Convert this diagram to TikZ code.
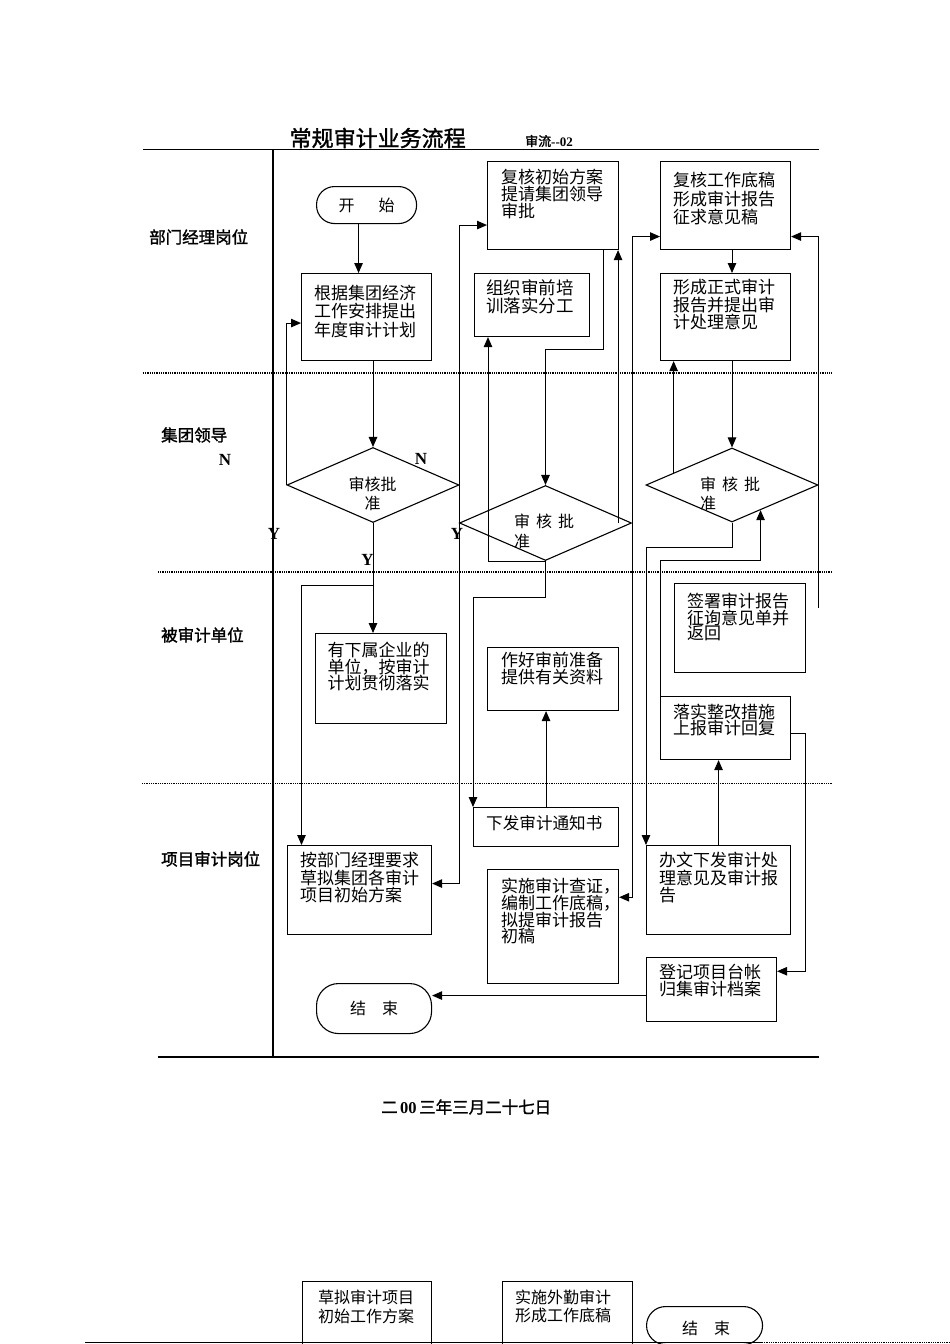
\documentclass[tikz,border=0pt]{standalone}
\usepackage{fontspec}
\setmainfont{Liberation Serif}
\newfontfamily\cjk{Noto Sans CJK SC}
\newfontfamily\cjkb{Noto Sans CJK SC}[FakeBold=1.5]
\usetikzlibrary{shapes.geometric,arrows.meta,calc}
\newcommand\bxfont[2]{\cjk\fontsize{#1}{#2}\selectfont}
\begin{document}
\begin{tikzpicture}[x=1pt,y=-1pt,
  every node/.style={inner sep=0pt},
  bx/.style={draw, rectangle, anchor=north west, line width=1.1pt},
  term/.style={draw, rectangle, anchor=north west, line width=1.1pt, font=\bxfont{16}{18}},
  dia/.style={draw, diamond, line width=1.1pt, minimum width=172pt, minimum height=75pt},
  txt/.style={anchor=north west, align=left},
  lane/.style={anchor=west, font=\cjkb\fontsize{16.5}{18}\selectfont},
  yn/.style={font=\bfseries\fontsize{17}{18}\selectfont},
  con/.style={line width=1pt},
  arr/.style={con, -{Triangle[length=10pt,width=8.5pt]}},
  arr2/.style={con, {Triangle[length=10pt,width=8.5pt]}-{Triangle[length=10pt,width=8.5pt]}},
  sep/.style={line width=1.2pt, dash pattern=on 1pt off 0.8pt},
]
\fill[white] (0,0) rectangle (950,1344);
\useasboundingbox (0,0) rectangle (950,1344);

% title
\node[anchor=west, font=\cjkb\fontsize{22}{24}\selectfont] (title) at (289.5,138) {常规审计业务流程};
\node[anchor=west] (code) at (525,141) {{\cjkb\fontsize{13}{14}\selectfont 审流}{\bfseries\fontsize{13}{14}\selectfont -{}-02}};

% frame lines
\draw[line width=1.5pt] (143,149.3) -- (818.5,149.3);
\draw[line width=1.1pt] (273,149.3) -- (273,1057);
\draw[line width=1.5pt] (158,1057) -- (818.5,1057);
\draw[sep] (143,373) -- (832,373);
\draw[sep] (158,572) -- (832,572);
\draw[sep] (142,783.5) -- (832,783.5);

% lane labels
\node[lane] (l1) at (149,237) {部门经理岗位};
\node[lane] (l2) at (161,435) {集团领导};
\node[lane] (l3) at (161,635) {被审计单位};
\node[lane] (l4) at (161,859) {项目审计岗位};

% Y / N labels
\node[yn] (n1) at (225,460) {N};
\node[yn] (n2) at (421,459) {N};
\node[yn] (y1) at (274,534) {Y};
\node[yn] (y2) at (457,534) {Y};
\node[yn] (y3) at (367.5,560) {Y};

% terminals
\node[term, rounded corners=18pt, minimum width=100pt, minimum height=37pt] (start) at (316,186) {开\hspace{24pt}始};
\node[term, rounded corners=22pt, minimum width=115pt, minimum height=50pt] (end) at (316,983) {结\hspace{16pt}束};

% boxes
\node[bx, minimum width=130pt, minimum height=87pt] (b1) at (301,273) {};
\node[bx, minimum width=131pt, minimum height=88pt] (b5) at (487,161) {};
\node[bx, minimum width=115pt, minimum height=63pt] (b6) at (474,273) {};
\node[bx, minimum width=130pt, minimum height=88pt] (b9) at (660,161) {};
\node[bx, minimum width=130pt, minimum height=87pt] (b15) at (660,273) {};
\node[bx, minimum width=131pt, minimum height=90pt] (b3) at (315,633) {};
\node[bx, minimum width=131pt, minimum height=63pt] (b8) at (487,647) {};
\node[bx, minimum width=131pt, minimum height=89pt] (b14) at (674,583) {};
\node[bx, minimum width=130pt, minimum height=63pt] (b12) at (660,696) {};
\node[bx, minimum width=145pt, minimum height=39pt] (b7) at (473,807) {};
\node[bx, minimum width=144pt, minimum height=89pt] (b4) at (287,845) {};
\node[bx, minimum width=131pt, minimum height=114pt] (b10) at (487,869) {};
\node[bx, minimum width=144pt, minimum height=89pt] (b11) at (646,845) {};
\node[bx, minimum width=130pt, minimum height=64pt] (b13) at (646,957) {};

% box texts
\node[txt, font=\bxfont{17}{18.7}] (t1) at (314,284.5) {根据集团经济\\工作安排提出\\年度审计计划};
\node[txt, font=\bxfont{17}{16.8}] (t5) at (501,169) {复核初始方案\\提请集团领导\\审批};
\node[txt, font=\bxfont{17.5}{18.5}] (t6) at (486,279) {组织审前培\\训落实分工};
\node[txt, font=\bxfont{17}{18.7}] (t9) at (673,172) {复核工作底稿\\形成审计报告\\征求意见稿};
\node[txt, font=\bxfont{17}{17.5}] (t15) at (673,279) {形成正式审计\\报告并提出审\\计处理意见};
\node[txt, font=\bxfont{17}{16.5}] (t3) at (327.5,642) {有下属企业的\\单位，按审计\\计划贯彻落实};
\node[txt, font=\bxfont{17}{17}] (t8) at (501,652) {作好审前准备\\提供有关资料};
\node[txt, font=\bxfont{17}{15.8}] (t14) at (687,592.5) {签署审计报告\\征询意见单并\\返回};
\node[txt, font=\bxfont{17}{16}] (t12) at (673,703.5) {落实整改措施\\上报审计回复};
\node[anchor=west, font=\bxfont{16.6}{18}] (t7) at (486,823) {下发审计通知书};
\node[txt, font=\bxfont{17}{17.5}] (t4) at (300,852) {按部门经理要求\\草拟集团各审计\\项目初始方案};
\node[txt, font=\bxfont{17}{16.7}] (t10) at (501,878) {实施审计查证，\\编制工作底稿，\\拟提审计报告\\初稿};
\node[txt, font=\bxfont{17}{17.5}] (t11) at (659,852) {办文下发审计处\\理意见及审计报\\告};
\node[txt, font=\bxfont{17}{17}] (t13) at (659,964) {登记项目台帐\\归集审计档案};

% diamonds
\node[dia] (d1) at (373,485) {};
\node[dia] (d2) at (545.5,523) {};
\node[dia, minimum height=74pt] (d3) at (732,485) {};
\node[anchor=north, align=center, font=\bxfont{16}{19}] (dt1) at (372.5,476.5) {审核批\\准};
\node[txt, font=\bxfont{16}{20}] (dt2) at (514,513.5) {审\hspace{6pt}核\hspace{6pt}批\\准};
\node[txt, font=\bxfont{16}{19}] (dt3) at (700,476.5) {审\hspace{6pt}核\hspace{6pt}批\\准};

% helper coordinates
\coordinate (j1) at (373,585);
\coordinate (e3) at ($(d3.west)!0.3256!(d3.north)$);
\coordinate (e4) at ($(d3.south)!0.33!(d3.east)$);
\coordinate (f1) at (818.5,608);

% connectors
\draw[arr] ([xshift=-8pt]start.south) -- ([xshift=-8pt]start.south |- b1.north);
\draw[arr] (b1.south -| d1.north) -- (d1.north);
\draw[arr] (d1.west) |- ([yshift=-6pt]b1.west);
\draw[arr] (d1.south) -- (d1.south |- b3.north);
\draw[arr] (j1) -| ([xshift=14.5pt]b4.north west);
\draw[arr2] ([yshift=6.5pt]b4.east) -| (d1.east) |- ([yshift=-19.5pt]b5.west);
\draw[arr] ([xshift=50.5pt]b5.south) -- ++(0,99) -| (d2.north);
\draw[arr] ([xshift=-14pt]d2.east) -- ([xshift=-14pt]d2.east |- b5.south);
\draw[arr] (d2.south) -| ([xshift=14pt]b6.south west);
\draw[arr] (d2.south) -- ++(0,36) -| (b7.north west);
\draw[arr] (b7.north) -- (b7.north |- b8.south);
\draw[arr2] ([yshift=29.3pt]b10.east) -| (d2.east) |- ([yshift=-31pt]b9.west);
\draw[arr] (b9.south -| d3.north) -- (b15.north -| d3.north);
\draw[arr] (b15.south -| d3.north) -- (d3.north);
\draw[arr] (e3) -- (e3 |- b15.south);
\draw[arr] (d3.south) -- ++(0,25) -| (b11.north west);
\draw[arr] (b12.north west) -- ++(0,-136) -| (e4);
\draw[arr] (b11.north) -- (b11.north |- b12.south);
\draw[arr] ([yshift=-5.5pt]b12.east) -- ++(14.5,0) |- ([yshift=18.3pt]b13.east);
\draw[arr] ([yshift=-6pt]b13.west) -- ([yshift=-6pt]b13.west -| end.east);
\draw[arr] (f1) |- ([yshift=-31pt]b9.east);

% date
\node[anchor=west] (date) at (381,1107) {{\cjkb\fontsize{16.5}{18}\selectfont 二} {\bfseries\fontsize{16.5}{18}\selectfont 00} {\cjkb\fontsize{16.5}{18}\selectfont 三年三月二十七日}};

% bottom fragment
\node[bx, minimum width=129pt, minimum height=80pt] (c1) at (302,1281) {};
\node[bx, minimum width=130pt, minimum height=80pt] (c2) at (502,1281) {};
\node[term, rounded corners=19pt, minimum width=116pt, minimum height=38pt] (cend) at (646,1306) {};
\node[font=\bxfont{16}{18}] (cet) at (706,1328) {结\hspace{16pt}束};
\node[txt, font=\bxfont{16}{19}] (ct1) at (318,1290) {草拟审计项目\\初始工作方案};
\node[txt, font=\bxfont{16}{18}] (ct2) at (515,1290) {实施外勤审计\\形成工作底稿};
\draw[line width=1.5pt] (85,1342.5) -- (762,1342.5);
\draw[sep] (762,1342.5) -- (950,1342.5);
\end{tikzpicture}
\end{document}
